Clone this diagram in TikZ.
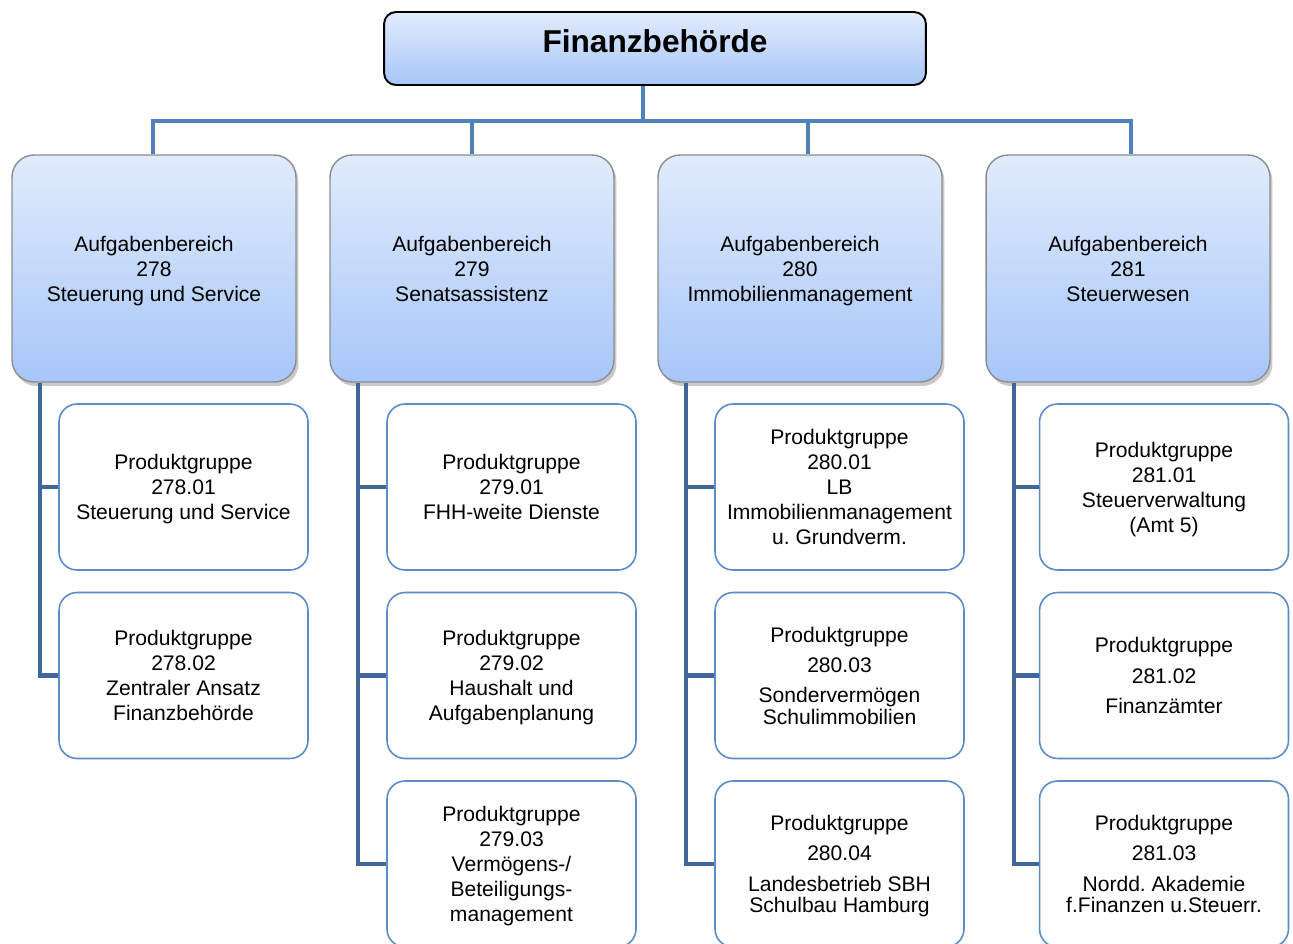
\documentclass[tikz,border=0pt]{standalone}
\usepackage{fontspec}
\setmainfont{Liberation Sans}
\usepackage{tikz}
\usetikzlibrary{positioning,shadows}
\definecolor{fbline}{HTML}{4F81BD}
\definecolor{fbspine}{HTML}{3F679B}
\definecolor{fbtop}{HTML}{E1ECFC}
\definecolor{fbbot}{HTML}{A7C6F9}
\definecolor{fbedge}{HTML}{5B8CC8}
\frenchspacing

\begin{document}
\begin{tikzpicture}[x=0.02cm, y=-0.02cm, font=\fontsize{12}{14.2}\selectfont,
  amt/.style={rectangle, rounded corners=0.24cm, draw=black, line width=1.1pt,
    top color=fbtop, bottom color=fbbot, minimum width=10.84cm, minimum height=1.46cm,
    font=\fontsize{18}{20}\selectfont\bfseries, text depth=8.5pt},
  ab/.style={rectangle, rounded corners=0.44cm, draw=black!45, line width=0.8pt,
    top color=fbtop, bottom color=fbbot, minimum width=5.68cm, minimum height=4.54cm,
    align=center, text depth=-1.4pt,
    drop shadow={shadow xshift=0.05cm, shadow yshift=-0.08cm,
    opacity=0.3, fill=black!70}},
  pg/.style={rectangle, rounded corners=0.36cm, draw=fbedge, line width=0.9pt,
    fill=white, minimum width=4.98cm, minimum height=3.32cm, align=center,
    text depth=-1.4pt},
  bus/.style={draw=fbline, line width=2.5pt},
  spine/.style={draw=fbspine, line width=2.3pt}]
  \useasboundingbox (0,0) rectangle (1293,943);

  \node[amt] (fb) at (655,48.5) {Finanzbehörde};

  \node[ab] (a278) at (154,268.5) {Aufgabenbereich\\278\\Steuerung und Service};
  \node[ab] (a279) at (472,268.5) {Aufgabenbereich\\279\\Senatsassistenz};
  \node[ab] (a280) at (800,268.5) {Aufgabenbereich\\280\\Immobilienmanagement};
  \node[ab] (a281) at (1128,268.5) {Aufgabenbereich\\281\\Steuerwesen};

  % Produktgruppen
  \node[pg] (p27801) at (183.5,487) {Produktgruppe\\278.01\\Steuerung und Service};
  \node[pg] (p27802) at (183.5,675.5) {Produktgruppe\\278.02\\Zentraler Ansatz\\Finanzbehörde};

  \node[pg] (p27901) at (511.5,487) {Produktgruppe\\279.01\\FHH-weite Dienste};
  \node[pg] (p27902) at (511.5,675.5) {Produktgruppe\\279.02\\Haushalt und\\Aufgabenplanung};
  \node[pg] (p27903) at (511.5,864) {Produktgruppe\\279.03\\Vermögens-/\\Beteiligungs-\\management};

  \node[pg] (p28001) at (839.5,487) {Produktgruppe\\280.01\\LB\\Immobilienmanagement\\u. Grundverm.};
  \node[pg] (p28003) at (839.5,675.5) {Produktgruppe\\[3pt]280.03\\[3pt]Sondervermögen\\[-2pt]Schulimmobilien};
  \node[pg] (p28004) at (839.5,864) {Produktgruppe\\[3pt]280.04\\[3pt]Landesbetrieb SBH\\[-2pt]Schulbau Hamburg};

  \node[pg] (p28101) at (1164,487) {Produktgruppe\\281.01\\Steuerverwaltung\\(Amt 5)};
  \node[pg] (p28102) at (1164,675.5) {Produktgruppe\\[3pt]281.02\\[3pt]Finanzämter};
  \node[pg] (p28103) at (1164,864) {Produktgruppe\\[3pt]281.03\\[3pt]Nordd. Akademie\\[-2pt]f.Finanzen u.Steuerr.};

  % Verbindungen
  \coordinate (hub) at ([xshift=-0.24cm, yshift=-0.7cm]fb.south);
  \path[bus] ([xshift=-0.24cm]fb.south) -- (hub);
  \foreach \n/\dx in {a278/-0.02cm, a279/0cm, a280/0.16cm, a281/0.06cm}
    \path[bus] (hub) -| ([xshift=\dx]\n.north);

  \foreach \n/\last in {a278/p27802, a279/p27903, a280/p28004, a281/p28103}{
    \coordinate (s\n) at ([xshift=0.57cm]\n.south west);
    \path[spine] (s\n) |- (\last.west);}
  \foreach \n/\p in {a278/p27801, a279/p27901, a279/p27902, a280/p28001, a280/p28003,
                     a281/p28101, a281/p28102}
    \path[spine] (\p.west -| s\n) -- (\p.west);
\end{tikzpicture}
\end{document}
